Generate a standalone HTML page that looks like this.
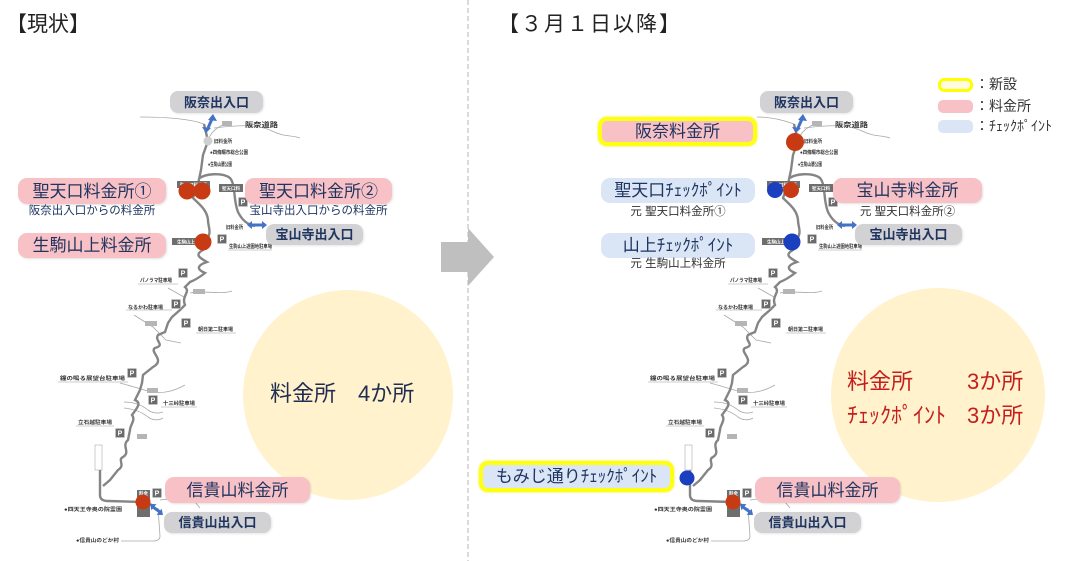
<!DOCTYPE html>
<html><head><meta charset="utf-8">
<style>
html,body{margin:0;padding:0;background:#fff}
body{width:1067px;height:561px;position:relative;overflow:hidden;font-family:"Liberation Sans","Noto Sans CJK JP",sans-serif}
.b{position:absolute;display:flex;align-items:center;justify-content:center;color:#1f3560;white-space:nowrap;box-sizing:border-box;line-height:1}
.pk{background:#f8c1c5;border-radius:9px;font-size:17px;box-shadow:1px 1px 2px rgba(0,0,0,.12)}
.gy{background:#d2d1d4;border-radius:8px;font-size:13px;font-weight:bold;box-shadow:1px 1px 2px rgba(0,0,0,.1)}
.bl{background:#dae5f6;border-radius:9px;font-size:17px}
.yl{border:4px solid #ffff14;box-shadow:0 0 2px #ee0}
.t{position:absolute;white-space:nowrap;color:#1f3560;line-height:1}
.c{text-align:center}
svg{position:absolute;left:0;top:0}
</style></head><body>
<svg width="1067" height="561" viewBox="0 0 1067 561" font-family="Liberation Sans, Noto Sans CJK JP, sans-serif">
<line x1="468" y1="0" x2="468" y2="561" stroke="#b4b4b4" stroke-width="1" stroke-dasharray="5 3"/>
<circle cx="348" cy="395" r="105" fill="#fff2cc"/>
<circle cx="938" cy="395" r="107" fill="#fff2cc"/>
<polygon points="441,242 468,242 468,228 494,257 468,286 468,272 441,272" fill="#bfbfbf"/>

<!-- LEFT MAP -->
<g>
<g fill="none" stroke="#a8a8a8" stroke-width="0.8">
<path d="M140,117 Q185,117 204,124"/>
<path d="M214,128 C238,125 258,124 272,131 C284,137 292,135 300,138"/>
<path d="M225,124 Q212,129 208,140"/>
<path d="M168,288 L184,297"/>
<path d="M190,293 C205,290 220,295 232,291"/>
<path d="M134,315 L153,327 L166,340 L181,343"/>
<path d="M120,383 C131,386 141,389 151,392 C166,394 176,390 185,385"/>
<path d="M124,402 C135,402 142,405 148,410 C152,413 158,414 163,412"/>
<path d="M124,408 C135,409 142,412 148,417 C152,420 158,421 163,418"/>
<path d="M158,508 L160,536 Q160,541 153,541 L121,541"/>
<path d="M160,500 C175,498 185,498 195,502 L200,508"/>
</g>
<g stroke="#bbb" stroke-width="0.7">
<line x1="138" y1="284" x2="178" y2="284"/><line x1="126" y1="310" x2="172" y2="310"/>
<line x1="196" y1="333" x2="236" y2="333"/><line x1="58" y1="382" x2="128" y2="382"/>
<line x1="161" y1="407" x2="197" y2="407"/><line x1="76" y1="426" x2="114" y2="426"/>
<line x1="228" y1="250" x2="272" y2="250"/>
</g>
<g fill="none" stroke="#858585" stroke-width="2.4">
<path d="M204,124 L208,141 L203,155 L201,170 L198,184 L193,198 C200,205 207,210 208,220 C208,228 213,232 205,242 L203,250 C194,255 200,258 207,262 C195,266 198,270 205,273 C200,277 195,280 190,282 L185,287 C191,292 181,296 185,305 L180,310 L172,317 L168,323 L165,332 L158,335 C154,341 166,345 155,348 C149,352 166,360 153,367 L143,375 L142,383 L140,390 L135,400 C142,403 137,408 132,415 C136,420 130,425 130,430 L128,440 C121,446 131,452 123,457 C117,460 126,465 118,470 L110,480 L103,486"/>
<path d="M200,178 C205,174 222,172 230,178 C236,185 233,200 238,212 C242,220 248,225 255,226"/>
<path d="M100,468 L100,495 Q100,501 108,501 L143,502 L152,505"/>
</g>
<circle cx="208" cy="141" r="4.5" fill="#cfcfcf"/>
<g fill="#6e6e6e">
<rect x="177" y="181" width="33" height="7"/><rect x="219" y="184" width="24" height="8"/>
<rect x="172" y="238" width="28" height="7"/><rect x="137" y="490" width="13" height="27"/>
</g>
<g fill="#b5b5b5">
<rect x="193" y="289" width="12" height="5"/><rect x="145" y="321" width="12" height="5"/>
<rect x="147" y="388" width="11" height="5"/><rect x="137" y="434" width="10" height="5"/>
<rect x="222" y="121" width="10" height="5"/>
</g>
<rect x="95" y="445" width="7" height="25" fill="#fff" stroke="#999" stroke-width="0.5"/>
<g font-size="4.5" font-weight="bold" fill="#fff" text-anchor="middle">
<text x="193.5" y="186.5">聖天口料金所</text><text x="231" y="190">聖天口料</text><text x="186" y="243.5">生駒山上</text><text x="143.5" y="495">料金</text>
</g>
<g fill="#6a6a6a" stroke="#ccc" stroke-width="0.5">
<rect x="178.5" y="268.5" width="9" height="9"/><rect x="171.5" y="299.5" width="9" height="9"/>
<rect x="181.5" y="318.5" width="9" height="9"/><rect x="127.5" y="368.5" width="9" height="9"/>
<rect x="148.5" y="395.5" width="9" height="9"/><rect x="115.5" y="428.5" width="9" height="9"/>
<rect x="152.5" y="488.5" width="9" height="9"/><rect x="217.5" y="234.5" width="9" height="9"/>
<rect x="238.5" y="197.5" width="9" height="9"/>
</g>
<g font-size="7" font-weight="bold" fill="#fff" text-anchor="middle">
<text x="183" y="275.5">P</text><text x="176" y="306.5">P</text><text x="186" y="325.5">P</text>
<text x="132" y="375.5">P</text><text x="153" y="402.5">P</text><text x="120" y="435.5">P</text>
<text x="157" y="495.5">P</text><text x="222" y="241.5">P</text><text x="243" y="204.5">P</text>
</g>
<g font-size="5" font-weight="bold" fill="#333">
<text x="245" y="127" font-size="7" textLength="33" lengthAdjust="spacingAndGlyphs">阪奈道路</text>
<text x="214" y="143" textLength="18" lengthAdjust="spacingAndGlyphs">旧料金所</text>
<text x="210" y="154" textLength="38" lengthAdjust="spacingAndGlyphs">●四條畷市総合公園</text>
<text x="208" y="166" textLength="24" lengthAdjust="spacingAndGlyphs">●生駒山麓公園</text>
<text x="226" y="229" textLength="17" lengthAdjust="spacingAndGlyphs">旧料金所</text>
<text x="229" y="248" textLength="43" lengthAdjust="spacingAndGlyphs">生駒山上遊園地駐車場</text>
<text x="140" y="282" textLength="32" lengthAdjust="spacingAndGlyphs">パノラマ駐車場</text>
<text x="128" y="309" textLength="35" lengthAdjust="spacingAndGlyphs">なるかわ駐車場</text>
<text x="198" y="331" textLength="35" lengthAdjust="spacingAndGlyphs">朝日第二駐車場</text>
<text x="60" y="380" textLength="65" lengthAdjust="spacingAndGlyphs">鐘の鳴る展望台駐車場</text>
<text x="163" y="405" textLength="32" lengthAdjust="spacingAndGlyphs">十三峠駐車場</text>
<text x="78" y="424" textLength="34" lengthAdjust="spacingAndGlyphs">立石越駐車場</text>
<text x="64" y="511" textLength="58" lengthAdjust="spacingAndGlyphs">●四天王寺奥の院霊園</text>
<text x="76" y="542" textLength="43" lengthAdjust="spacingAndGlyphs">●信貴山のどか村</text>
</g>
<g fill="#4472c4" stroke="#4472c4">
<line x1="212" y1="119" x2="208" y2="128" stroke-width="3"/>
<polygon points="213,114 208,120 217,121" stroke="none"/><polygon points="206,133 202,127 211,128" stroke="none"/>
<line x1="251" y1="225" x2="263" y2="225" stroke-width="3"/>
<polygon points="247,225 252,221 252,229" stroke="none"/><polygon points="267,225 262,221 262,229" stroke="none"/>
<line x1="153" y1="507" x2="160" y2="512" stroke-width="3"/>
<polygon points="150,504 151.4,510.3 156.4,504.1" stroke="none"/><polygon points="163,515 156.6,514.9 161.6,508.7" stroke="none"/>
</g>
</g>

<!-- RIGHT MAP -->
<g transform="translate(590,0)">
<g fill="none" stroke="#a8a8a8" stroke-width="0.8">
<path d="M167,117 Q185,117 204,124"/>
<path d="M214,128 C238,125 258,124 272,131 C284,137 292,135 300,138"/>
<path d="M225,124 Q212,129 208,140"/>
<path d="M168,288 L184,297"/>
<path d="M190,293 C205,290 220,295 232,291"/>
<path d="M134,315 L153,327 L166,340 L181,343"/>
<path d="M120,383 C131,386 141,389 151,392 C166,394 176,390 185,385"/>
<path d="M124,402 C135,402 142,405 148,410 C152,413 158,414 163,412"/>
<path d="M124,408 C135,409 142,412 148,417 C152,420 158,421 163,418"/>
<path d="M158,508 L160,536 Q160,541 153,541 L121,541"/>
<path d="M160,500 C175,498 185,498 195,502 L200,508"/>
</g>
<g stroke="#bbb" stroke-width="0.7">
<line x1="138" y1="284" x2="178" y2="284"/><line x1="126" y1="310" x2="172" y2="310"/>
<line x1="196" y1="333" x2="236" y2="333"/><line x1="58" y1="382" x2="128" y2="382"/>
<line x1="161" y1="407" x2="197" y2="407"/><line x1="76" y1="426" x2="114" y2="426"/>
<line x1="228" y1="250" x2="272" y2="250"/>
</g>
<g fill="none" stroke="#858585" stroke-width="2.4">
<path d="M204,124 L208,141 L203,155 L201,170 L198,184 L193,198 C200,205 207,210 208,220 C208,228 213,232 205,242 L203,250 C194,255 200,258 207,262 C195,266 198,270 205,273 C200,277 195,280 190,282 L185,287 C191,292 181,296 185,305 L180,310 L172,317 L168,323 L165,332 L158,335 C154,341 166,345 155,348 C149,352 166,360 153,367 L143,375 L142,383 L140,390 L135,400 C142,403 137,408 132,415 C136,420 130,425 130,430 L128,440 C121,446 131,452 123,457 C117,460 126,465 118,470 L110,480 L103,486"/>
<path d="M200,178 C205,174 222,172 230,178 C236,185 233,200 238,212 C242,220 248,225 255,226"/>
<path d="M100,468 L100,495 Q100,501 108,501 L143,502 L152,505"/>
</g>
<g fill="#6e6e6e">
<rect x="177" y="181" width="33" height="7"/><rect x="219" y="184" width="24" height="8"/>
<rect x="172" y="238" width="28" height="7"/><rect x="137" y="490" width="13" height="27"/>
</g>
<g fill="#b5b5b5">
<rect x="193" y="289" width="12" height="5"/><rect x="145" y="321" width="12" height="5"/>
<rect x="147" y="388" width="11" height="5"/><rect x="137" y="434" width="10" height="5"/>
<rect x="222" y="121" width="10" height="5"/>
</g>
<rect x="95" y="445" width="7" height="25" fill="#fff" stroke="#999" stroke-width="0.5"/>
<g font-size="4.5" font-weight="bold" fill="#fff" text-anchor="middle">
<text x="193.5" y="186.5">聖天口料金所</text><text x="231" y="190">聖天口料</text><text x="186" y="243.5">生駒山上</text><text x="143.5" y="495">料金</text>
</g>
<g fill="#6a6a6a" stroke="#ccc" stroke-width="0.5">
<rect x="178.5" y="268.5" width="9" height="9"/><rect x="171.5" y="299.5" width="9" height="9"/>
<rect x="181.5" y="318.5" width="9" height="9"/><rect x="127.5" y="368.5" width="9" height="9"/>
<rect x="148.5" y="395.5" width="9" height="9"/><rect x="115.5" y="428.5" width="9" height="9"/>
<rect x="152.5" y="488.5" width="9" height="9"/><rect x="217.5" y="234.5" width="9" height="9"/>
<rect x="238.5" y="197.5" width="9" height="9"/>
</g>
<g font-size="7" font-weight="bold" fill="#fff" text-anchor="middle">
<text x="183" y="275.5">P</text><text x="176" y="306.5">P</text><text x="186" y="325.5">P</text>
<text x="132" y="375.5">P</text><text x="153" y="402.5">P</text><text x="120" y="435.5">P</text>
<text x="157" y="495.5">P</text><text x="222" y="241.5">P</text><text x="243" y="204.5">P</text>
</g>
<g font-size="5" font-weight="bold" fill="#333">
<text x="245" y="127" font-size="7" textLength="33" lengthAdjust="spacingAndGlyphs">阪奈道路</text>
<text x="214" y="143" textLength="18" lengthAdjust="spacingAndGlyphs">旧料金所</text>
<text x="210" y="154" textLength="38" lengthAdjust="spacingAndGlyphs">●四條畷市総合公園</text>
<text x="208" y="166" textLength="24" lengthAdjust="spacingAndGlyphs">●生駒山麓公園</text>
<text x="226" y="229" textLength="17" lengthAdjust="spacingAndGlyphs">旧料金所</text>
<text x="229" y="248" textLength="43" lengthAdjust="spacingAndGlyphs">生駒山上遊園地駐車場</text>
<text x="140" y="282" textLength="32" lengthAdjust="spacingAndGlyphs">パノラマ駐車場</text>
<text x="128" y="309" textLength="35" lengthAdjust="spacingAndGlyphs">なるかわ駐車場</text>
<text x="198" y="331" textLength="35" lengthAdjust="spacingAndGlyphs">朝日第二駐車場</text>
<text x="60" y="380" textLength="65" lengthAdjust="spacingAndGlyphs">鐘の鳴る展望台駐車場</text>
<text x="163" y="405" textLength="32" lengthAdjust="spacingAndGlyphs">十三峠駐車場</text>
<text x="78" y="424" textLength="34" lengthAdjust="spacingAndGlyphs">立石越駐車場</text>
<text x="64" y="511" textLength="58" lengthAdjust="spacingAndGlyphs">●四天王寺奥の院霊園</text>
<text x="76" y="542" textLength="43" lengthAdjust="spacingAndGlyphs">●信貴山のどか村</text>
</g>
<g fill="#4472c4" stroke="#4472c4">
<line x1="212" y1="119" x2="208" y2="128" stroke-width="3"/>
<polygon points="213,114 208,120 217,121" stroke="none"/><polygon points="206,133 202,127 211,128" stroke="none"/>
<line x1="251" y1="225" x2="263" y2="225" stroke-width="3"/>
<polygon points="247,225 252,221 252,229" stroke="none"/><polygon points="267,225 262,221 262,229" stroke="none"/>
<line x1="153" y1="507" x2="160" y2="512" stroke-width="3"/>
<polygon points="150,504 151.4,510.3 156.4,504.1" stroke="none"/><polygon points="163,515 156.6,514.9 161.6,508.7" stroke="none"/>
</g>
</g>

<!-- dots left -->
<g fill="#c83a14">
<circle cx="187" cy="191" r="8.5"/><circle cx="202" cy="191" r="8.5"/>
<circle cx="203" cy="242" r="8.5"/><circle cx="143" cy="502" r="7.5"/>
</g>
<!-- dots right -->
<circle cx="795" cy="142" r="9" fill="#c83a14"/>
<circle cx="791" cy="190" r="8" fill="#c83a14"/>
<circle cx="775" cy="190" r="8" fill="#1a3fbf"/>
<circle cx="792" cy="242" r="8.5" fill="#1a3fbf"/>
<circle cx="687" cy="478" r="7.5" fill="#1a3fbf"/>
<circle cx="733" cy="502" r="7.5" fill="#c83a14"/>

<!-- legend -->
<rect x="939.5" y="79.5" width="32" height="11" rx="5" fill="#fffbe0" stroke="#ffff00" stroke-width="3"/>
<rect x="938" y="100" width="35" height="13" rx="5" fill="#f8c1c5"/>
<rect x="938" y="120" width="35" height="13" rx="5" fill="#dae5f6"/>
</svg>

<!-- titles -->
<div class="t" style="left:6px;top:14px;font-size:21px;color:#222">【現状】</div>
<div class="t" style="left:498px;top:14px;font-size:21px;color:#222;letter-spacing:2px">【３月１日以降】</div>

<!-- legend text -->
<div class="t" style="left:975px;top:77px;font-size:14px;color:#333">：新設</div>
<div class="t" style="left:975px;top:99px;font-size:14px;color:#333">：料金所</div>
<div class="t" style="left:975px;top:119px;font-size:14px;color:#333">：ﾁｪｯｸﾎﾟｲﾝﾄ</div>

<!-- left boxes -->
<div class="b gy" style="left:170px;top:91px;width:93px;height:22px">阪奈出入口</div>
<div class="b pk" style="left:18px;top:178px;width:148px;height:26px">聖天口料金所①</div>
<div class="t c" style="left:18px;top:206px;width:148px;font-size:11.5px">阪奈出入口からの料金所</div>
<div class="b pk" style="left:245px;top:178px;width:147px;height:26px">聖天口料金所②</div>
<div class="t c" style="left:245px;top:206px;width:147px;font-size:11.5px">宝山寺出入口からの料金所</div>
<div class="b gy" style="left:266px;top:224px;width:97px;height:21px">宝山寺出入口</div>
<div class="b pk" style="left:18px;top:233px;width:148px;height:25px">生駒山上料金所</div>
<div class="b pk" style="left:165px;top:477px;width:145px;height:26px">信貴山料金所</div>
<div class="b gy" style="left:164px;top:512px;width:107px;height:21px">信貴山出入口</div>

<!-- left circle text -->
<div class="t" style="left:270px;top:383px;font-size:22px;color:#1f2d50">料金所　4か所</div>

<!-- right boxes -->
<div class="b gy" style="left:760px;top:91px;width:93px;height:22px">阪奈出入口</div>
<div class="b pk yl" style="left:598px;top:117px;width:159px;height:29px">阪奈料金所</div>
<div class="b bl" style="left:601px;top:178px;width:154px;height:25px">聖天口ﾁｪｯｸﾎﾟｲﾝﾄ</div>
<div class="t c" style="left:601px;top:207px;width:154px;font-size:11.5px;color:#333">元 聖天口料金所①</div>
<div class="b pk" style="left:833px;top:178px;width:149px;height:25px">宝山寺料金所</div>
<div class="t c" style="left:833px;top:207px;width:149px;font-size:11.5px;color:#333">元 聖天口料金所②</div>
<div class="b gy" style="left:855px;top:224px;width:107px;height:21px">宝山寺出入口</div>
<div class="b bl" style="left:601px;top:233px;width:154px;height:25px">山上ﾁｪｯｸﾎﾟｲﾝﾄ</div>
<div class="t c" style="left:601px;top:259px;width:154px;font-size:11.5px;color:#333">元 生駒山上料金所</div>
<div class="b bl yl" style="left:479px;top:461px;width:195px;height:31px">もみじ通りﾁｪｯｸﾎﾟｲﾝﾄ</div>
<div class="b pk" style="left:755px;top:477px;width:145px;height:26px">信貴山料金所</div>
<div class="b gy" style="left:754px;top:512px;width:107px;height:21px">信貴山出入口</div>

<!-- right circle text -->
<div class="t" style="left:847px;top:371px;font-size:22px;color:#c41e1e">料金所</div>
<div class="t" style="left:967px;top:371px;font-size:22px;color:#c41e1e">3か所</div>
<div class="t" style="left:847px;top:405px;font-size:22px;color:#c41e1e">ﾁｪｯｸﾎﾟｲﾝﾄ</div>
<div class="t" style="left:967px;top:405px;font-size:22px;color:#c41e1e">3か所</div>
</body></html>
